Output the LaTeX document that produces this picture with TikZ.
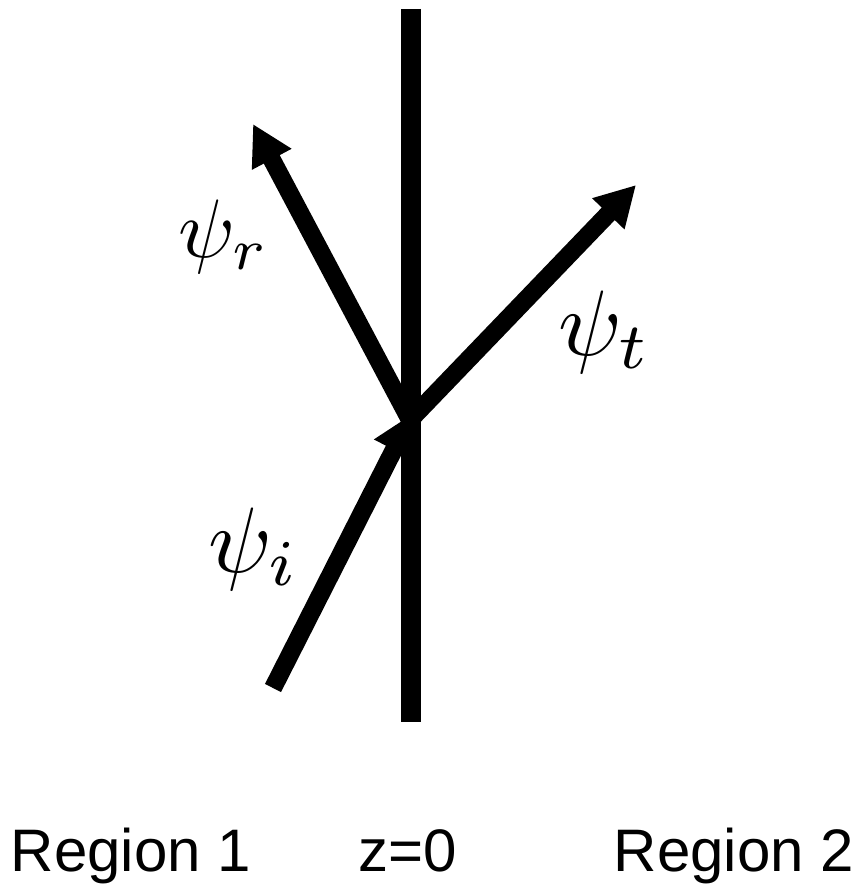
\documentclass[tikz,border=0pt]{standalone}
\usepackage{fontspec}
\setmainfont{Liberation Sans}
\usepackage{graphicx}
\usepackage{tikz}
\usetikzlibrary{arrows.meta}
\tikzset{
  wave/.style={line width=18pt,-{Triangle[length=40pt,width=42pt]}},
  psilabel/.style={inner sep=0pt,anchor=base west},
  regionlabel/.style={inner sep=0pt,anchor=base,font=\fontsize{60}{62}\selectfont}
}

\begin{document}
\begin{tikzpicture}[x=1pt,y=-1pt]
  \useasboundingbox (0,0) rectangle (861,888);
  % boundary between the two regions
  \coordinate (top) at (411,9);
  \coordinate (bottom) at (411,722);
  \draw[line width=20pt] (top) -- (bottom);
  % waves
  \coordinate (src) at (273,688);
  \coordinate (hit) at (410,420);
  \coordinate (inc) at (412,414);
  \coordinate (refl) at (253,124);
  \coordinate (trans) at (636,185);
  \draw[wave] (src) -- (inc);
  \draw[wave] (hit) -- (refl);
  \draw[wave] (hit) -- (trans);
  \node[psilabel] (lr) at (178,257) {\scalebox{8.3}{$\psi_r$}};
  \node[psilabel] (lt) at (558,355) {\scalebox{9.3}{$\psi_t$}};
  \node[psilabel] (li) at (208,572) {\scalebox{9.3}{$\psi_i$}};
  % region names
  \node[regionlabel] (r1) at (131,871) {Region 1};
  \node[regionlabel] (z0) at (408,871) {z=0};
  \node[regionlabel] (r2) at (734,871) {Region 2};
\end{tikzpicture}
\end{document}
